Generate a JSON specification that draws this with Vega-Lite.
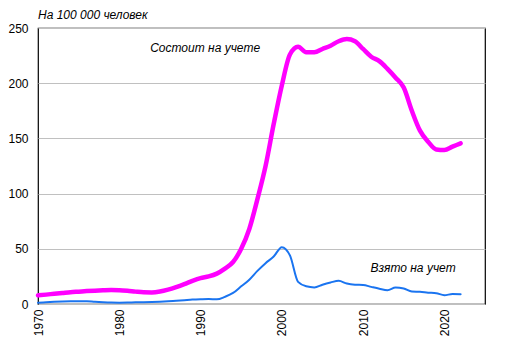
{
  "$schema": "https://vega.github.io/schema/vega-lite/v6.json",
  "width": 447,
  "height": 276,
  "autosize": "none",
  "padding": {"left": 38, "top": 28, "right": 27, "bottom": 51},
  "background": "white",
  "config": {
    "view": {"stroke": "#000000", "strokeWidth": 1.2},
    "font": "Liberation Sans",
    "axis": {"labelFont": "Liberation Sans", "labelFontSize": 12, "labelColor": "#000000", "ticks": false, "domain": false, "title": null}
  },
  "title": {"text": "На 100 000 человек", "anchor": "start", "frame": "group", "fontSize": 12, "fontStyle": "italic", "fontWeight": "normal", "font": "Liberation Sans", "color": "#000000", "offset": 0, "dx": 0},
  "datasets": {
    "series": [
      {"year": 1970, "series": "Состоит на учете", "value": 7.8},
      {"year": 1971, "series": "Состоит на учете", "value": 8.5},
      {"year": 1972, "series": "Состоит на учете", "value": 9.3},
      {"year": 1973, "series": "Состоит на учете", "value": 10},
      {"year": 1974, "series": "Состоит на учете", "value": 10.7},
      {"year": 1975, "series": "Состоит на учете", "value": 11.2},
      {"year": 1976, "series": "Состоит на учете", "value": 11.7},
      {"year": 1977, "series": "Состоит на учете", "value": 12.1},
      {"year": 1978, "series": "Состоит на учете", "value": 12.4},
      {"year": 1979, "series": "Состоит на учете", "value": 12.6},
      {"year": 1980, "series": "Состоит на учете", "value": 12.5},
      {"year": 1981, "series": "Состоит на учете", "value": 12},
      {"year": 1982, "series": "Состоит на учете", "value": 11.2},
      {"year": 1983, "series": "Состоит на учете", "value": 10.6},
      {"year": 1984, "series": "Состоит на учете", "value": 10.5},
      {"year": 1985, "series": "Состоит на учете", "value": 11.3},
      {"year": 1986, "series": "Состоит на учете", "value": 13},
      {"year": 1987, "series": "Состоит на учете", "value": 15.3},
      {"year": 1988, "series": "Состоит на учете", "value": 18},
      {"year": 1989, "series": "Состоит на учете", "value": 21},
      {"year": 1990, "series": "Состоит на учете", "value": 23.5},
      {"year": 1991, "series": "Состоит на учете", "value": 25},
      {"year": 1992, "series": "Состоит на учете", "value": 27.5},
      {"year": 1993, "series": "Состоит на учете", "value": 32},
      {"year": 1994, "series": "Состоит на учете", "value": 38},
      {"year": 1995, "series": "Состоит на учете", "value": 50},
      {"year": 1996, "series": "Состоит на учете", "value": 68},
      {"year": 1997, "series": "Состоит на учете", "value": 95},
      {"year": 1998, "series": "Состоит на учете", "value": 125},
      {"year": 1999, "series": "Состоит на учете", "value": 163},
      {"year": 2000, "series": "Состоит на учете", "value": 198},
      {"year": 2001, "series": "Состоит на учете", "value": 226},
      {"year": 2002, "series": "Состоит на учете", "value": 233},
      {"year": 2003, "series": "Состоит на учете", "value": 228},
      {"year": 2004, "series": "Состоит на учете", "value": 228},
      {"year": 2005, "series": "Состоит на учете", "value": 231},
      {"year": 2006, "series": "Состоит на учете", "value": 234},
      {"year": 2007, "series": "Состоит на учете", "value": 238},
      {"year": 2008, "series": "Состоит на учете", "value": 240},
      {"year": 2009, "series": "Состоит на учете", "value": 238},
      {"year": 2010, "series": "Состоит на учете", "value": 231},
      {"year": 2011, "series": "Состоит на учете", "value": 224},
      {"year": 2012, "series": "Состоит на учете", "value": 220},
      {"year": 2013, "series": "Состоит на учете", "value": 213},
      {"year": 2014, "series": "Состоит на учете", "value": 205},
      {"year": 2015, "series": "Состоит на учете", "value": 196},
      {"year": 2016, "series": "Состоит на учете", "value": 175},
      {"year": 2017, "series": "Состоит на учете", "value": 157},
      {"year": 2018, "series": "Состоит на учете", "value": 147},
      {"year": 2019, "series": "Состоит на учете", "value": 140},
      {"year": 2020, "series": "Состоит на учете", "value": 139.5},
      {"year": 2021, "series": "Состоит на учете", "value": 142.5},
      {"year": 2022, "series": "Состоит на учете", "value": 145.5},
      {"year": 1970, "series": "Взято на учет", "value": 1.2},
      {"year": 1971, "series": "Взято на учет", "value": 1.6},
      {"year": 1972, "series": "Взято на учет", "value": 2},
      {"year": 1973, "series": "Взято на учет", "value": 2.3},
      {"year": 1974, "series": "Взято на учет", "value": 2.5},
      {"year": 1975, "series": "Взято на учет", "value": 2.6},
      {"year": 1976, "series": "Взято на учет", "value": 2.5},
      {"year": 1977, "series": "Взято на учет", "value": 2},
      {"year": 1978, "series": "Взято на учет", "value": 1.6},
      {"year": 1979, "series": "Взято на учет", "value": 1.3},
      {"year": 1980, "series": "Взято на учет", "value": 1.2},
      {"year": 1981, "series": "Взято на учет", "value": 1.3},
      {"year": 1982, "series": "Взято на учет", "value": 1.5},
      {"year": 1983, "series": "Взято на учет", "value": 1.6},
      {"year": 1984, "series": "Взято на учет", "value": 1.8},
      {"year": 1985, "series": "Взято на учет", "value": 2.1},
      {"year": 1986, "series": "Взято на учет", "value": 2.5},
      {"year": 1987, "series": "Взято на учет", "value": 3},
      {"year": 1988, "series": "Взято на учет", "value": 3.5},
      {"year": 1989, "series": "Взято на учет", "value": 4},
      {"year": 1990, "series": "Взято на учет", "value": 4.3},
      {"year": 1991, "series": "Взято на учет", "value": 4.5},
      {"year": 1992, "series": "Взято на учет", "value": 4.2},
      {"year": 1993, "series": "Взято на учет", "value": 6.5},
      {"year": 1994, "series": "Взято на учет", "value": 10},
      {"year": 1995, "series": "Взято на учет", "value": 16},
      {"year": 1996, "series": "Взято на учет", "value": 22},
      {"year": 1997, "series": "Взято на учет", "value": 30},
      {"year": 1998, "series": "Взято на учет", "value": 37},
      {"year": 1999, "series": "Взято на учет", "value": 43},
      {"year": 2000, "series": "Взято на учет", "value": 51.5},
      {"year": 2001, "series": "Взято на учет", "value": 44},
      {"year": 2002, "series": "Взято на учет", "value": 20},
      {"year": 2003, "series": "Взято на учет", "value": 16},
      {"year": 2004, "series": "Взято на учет", "value": 15},
      {"year": 2005, "series": "Взято на учет", "value": 17.5},
      {"year": 2006, "series": "Взято на учет", "value": 19.5},
      {"year": 2007, "series": "Взято на учет", "value": 21},
      {"year": 2008, "series": "Взято на учет", "value": 18.5},
      {"year": 2009, "series": "Взято на учет", "value": 17.5},
      {"year": 2010, "series": "Взято на учет", "value": 17.3},
      {"year": 2011, "series": "Взято на учет", "value": 15.5},
      {"year": 2012, "series": "Взято на учет", "value": 13.8},
      {"year": 2013, "series": "Взято на учет", "value": 12.5},
      {"year": 2014, "series": "Взято на учет", "value": 15},
      {"year": 2015, "series": "Взято на учет", "value": 14},
      {"year": 2016, "series": "Взято на учет", "value": 11.3},
      {"year": 2017, "series": "Взято на учет", "value": 11},
      {"year": 2018, "series": "Взято на учет", "value": 10.3},
      {"year": 2019, "series": "Взято на учет", "value": 9.8},
      {"year": 2020, "series": "Взято на учет", "value": 8},
      {"year": 2021, "series": "Взято на учет", "value": 9},
      {"year": 2022, "series": "Взято на учет", "value": 8.8}
    ],
    "labels": [
      {"year": 1983.8, "value": 232, "label": "Состоит на учете"},
      {"year": 2010.9, "value": 33, "label": "Взято на учет"}
    ]
  },
  "layer": [
    {
      "data": {"name": "series"},
      "mark": {"type": "line", "interpolate": "monotone", "strokeCap": "round", "strokeJoin": "round"},
      "encoding": {
        "x": {"field": "year", "type": "quantitative", "scale": {"domain": [1970, 2025], "nice": false, "zero": false},
              "axis": {"values": [1970, 1980, 1990, 2000, 2010, 2020], "format": "d", "labelAngle": 270, "labelPadding": 5, "grid": false, "labelFontSize": 12}},
        "y": {"field": "value", "type": "quantitative", "scale": {"domain": [0, 250], "nice": false},
              "axis": {"values": [0, 50, 100, 150, 200, 250], "labelPadding": 10, "grid": true, "gridColor": "#c0c0c0", "gridWidth": 1}},
        "color": {"field": "series", "type": "nominal", "scale": {"domain": ["Состоит на учете", "Взято на учет"], "range": ["#ff00ff", "#1a74f0"]}, "legend": null},
        "strokeWidth": {"field": "series", "type": "nominal", "scale": {"domain": ["Состоит на учете", "Взято на учет"], "range": [4.5, 2]}, "legend": null}
      }
    },
    {
      "data": {"name": "labels"},
      "mark": {"type": "text", "align": "left", "baseline": "middle", "fontStyle": "italic", "fontSize": 12, "font": "Liberation Sans", "color": "#000000"},
      "encoding": {
        "x": {"field": "year", "type": "quantitative"},
        "y": {"field": "value", "type": "quantitative"},
        "text": {"field": "label", "type": "nominal"}
      }
    }
  ]
}
